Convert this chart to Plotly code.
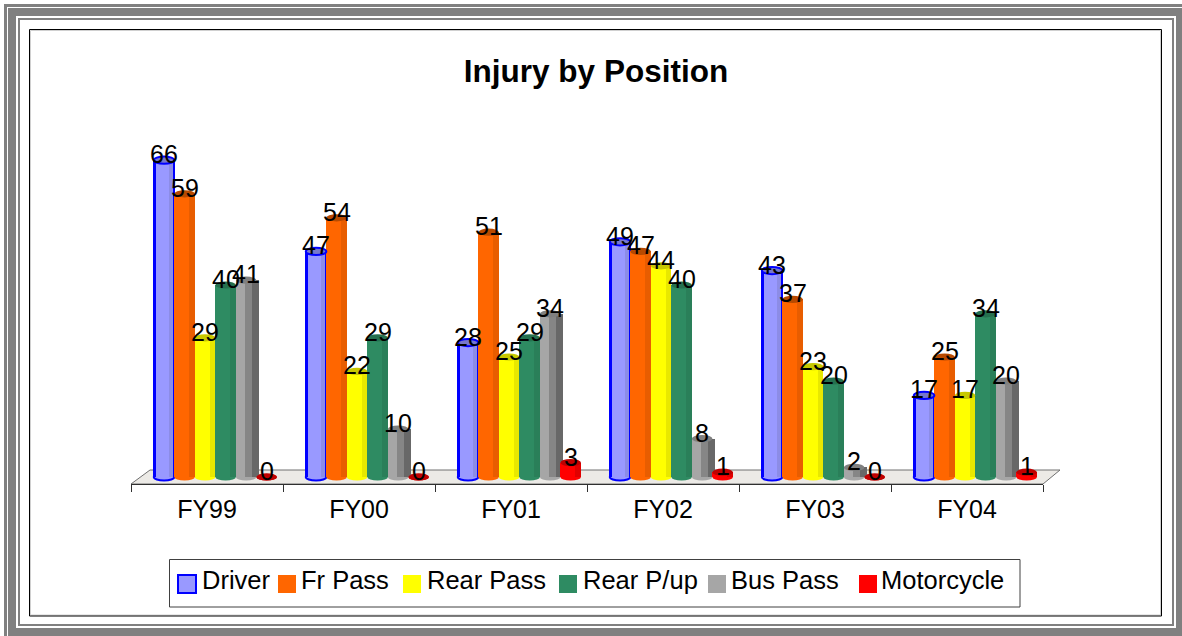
import plotly.graph_objects as go

W, H = 1182, 636
categories = ["FY99", "FY00", "FY01", "FY02", "FY03", "FY04"]
series_names = ["Driver", "Fr Pass", "Rear Pass", "Rear P/up", "Bus Pass", "Motorcycle"]
driver = [66, 47, 28, 49, 43, 17]
fr_pass = [59, 54, 51, 47, 37, 25]
rear_pass = [29, 22, 25, 44, 23, 17]
rear_pup = [40, 29, 29, 40, 20, 34]
bus_pass = [41, 10, 34, 8, 2, 20]
motorcycle = [0, 0, 3, 1, 0, 1]
series_values = [driver, fr_pass, rear_pass, rear_pup, bus_pass, motorcycle]

# styles ---------------------------------------------------------------
colors = ["#9999FF", "#FF6600", "#FFFF00", "#2E8B62", "#A6A6A6", "#FF0000"]
cap_colors = ["#7777CC", "#B84A00", "#C8C800", "#25704F", "#808080", "#C00000"]
outline = ["#0000FF", None, None, None, None, None]
# shading strips of each column: (from, to, colour) in fractions of the bar width
strips = [
    [(0.72, 0.97, "#8C8CE6"), (0.0, 0.09, "#0000FF"), (0.94, 1.03, "#0000FF")],
    [(0.72, 1.0, "#E85D00")],
    [(0.72, 1.0, "#E8E800")],
    [(0.72, 1.0, "#2A7F59")],
    [(0.42, 0.78, "#868686"), (0.78, 1.12, "#686868")],
    [(0.72, 1.0, "#E00000")],
]
GROUP_START = -0.35
BAR_W = 0.135
CAP = 0.75
PX_Y0, PX_Y_UNIT = 477, 4.8
AX_BOTTOM, AX_TOP = 484, 100
AX_LEFT, AX_RIGHT = 131, 1043
xs = list(range(len(categories)))


def px(x):
    return x / W


def py(y):
    return 1 - y / H


fig = go.Figure()
shapes = []
annotations = []


def frame(x0, y0, x1, y1, color, width):
    shapes.append(dict(type="rect", xref="paper", yref="paper", x0=px(x0), y0=py(y0), x1=px(x1), y1=py(y1),
                       line=dict(color=color, width=width), fillcolor="rgba(0,0,0,0)", layer="below"))


frame(5.5, 5.5, 1200, 660, "#808080", 3)
frame(12, 12, 1180, 632, "#808080", 8)
frame(19, 19, 1173, 625, "#808080", 2)
frame(30.5, 30.5, 1160.5, 615, "#D0D0D0", 1)
frame(29.5, 29.5, 1161.5, 616, "#000000", 1)

# floor
shapes.append(dict(type="path", xref="paper", yref="paper", layer="below",
                   path=f"M{px(AX_LEFT)},{py(AX_BOTTOM)} L{px(150)},{py(470)} L{px(1060)},{py(470)} L{px(AX_RIGHT)},{py(AX_BOTTOM)} Z",
                   fillcolor="#ECEAE6", line=dict(color="#707070", width=1)))

for k, (name, vals) in enumerate(zip(series_names, series_values)):
    off = GROUP_START + k * BAR_W
    fig.add_bar(x=categories, y=vals, name=name, offset=off, width=BAR_W,
                marker=dict(color=colors[k], line=dict(width=0)), showlegend=False)
    for a, b, c in strips[k]:
        fig.add_bar(x=categories, y=vals, offset=off + a * BAR_W, width=(b - a) * BAR_W,
                    marker=dict(color=c, line=dict(width=0)), showlegend=False, hoverinfo="skip")
    for i, v in zip(xs, vals):
        line_c = outline[k]
        # base ellipse (behind the column)
        shapes.append(dict(type="circle", xref="x", yref="y", layer="below",
                           x0=i + off, x1=i + off + BAR_W, y0=-CAP, y1=CAP,
                           fillcolor=colors[k] if v > 0 else cap_colors[k],
                           line=dict(color=line_c or colors[k], width=2 if line_c else 0)))
        # top ellipse
        shapes.append(dict(type="circle", xref="x", yref="y", layer="above",
                           x0=i + off, x1=i + off + BAR_W, y0=v - CAP, y1=v + CAP,
                           fillcolor=cap_colors[k],
                           line=dict(color=line_c or cap_colors[k], width=2 if line_c else 0)))
        annotations.append(dict(x=i + off + BAR_W / 2, y=v, xref="x", yref="y", text=str(v), showarrow=False,
                                yshift=6, font=dict(family="Liberation Sans", size=25, color="#000000")))

# legend
legend_swatch_x = [178, 278, 403, 559, 708, 859]
legend_text_x = [200, 299, 425, 581, 729, 879]
shapes.append(dict(type="rect", xref="paper", yref="paper", layer="below", x0=px(169.5), x1=px(1020), y0=py(559.5), y1=py(607),
                   line=dict(color="#404040", width=1), fillcolor="#FFFFFF"))
for k, name in enumerate(series_names):
    shapes.append(dict(type="rect", xref="paper", yref="paper", layer="above",
                       x0=px(legend_swatch_x[k]), x1=px(legend_swatch_x[k] + 18), y0=py(575), y1=py(593),
                       fillcolor=colors[k], line=dict(color=outline[k] or colors[k], width=2 if outline[k] else 0)))
    annotations.append(dict(x=px(legend_text_x[k]), y=py(580), xref="paper", yref="paper", xanchor="left", yanchor="middle",
                            text=name, showarrow=False, font=dict(family="Liberation Sans", size=25.5, color="#000000")))

fig.update_layout(
    width=W, height=H, autosize=False, margin=dict(l=0, r=0, t=0, b=0), barmode="overlay",
    paper_bgcolor="#FFFFFF", plot_bgcolor="rgba(0,0,0,0)", showlegend=False,
    title=dict(text="<b>Injury by Position</b>", x=596 / W, xanchor="center", y=py(71), yanchor="middle",
               font=dict(family="Liberation Sans", size=31.5, color="#000000")),
    xaxis=dict(domain=[px(AX_LEFT), px(AX_RIGHT)], type="category", categoryorder="array", categoryarray=categories,
               range=[-0.5, 5.5], showgrid=False, zeroline=False, showline=True, linecolor="#303030", linewidth=1,
               ticks="outside", tickson="boundaries", ticklen=7, tickcolor="#303030", tickwidth=1,
               ticklabelstandoff=3, tickfont=dict(family="Liberation Sans", size=25, color="#000000")),
    yaxis=dict(domain=[py(AX_BOTTOM), py(AX_TOP)], visible=False, showgrid=False, zeroline=False,
               range=[(PX_Y0 - AX_BOTTOM) / PX_Y_UNIT, (PX_Y0 - AX_TOP) / PX_Y_UNIT]),
    shapes=shapes, annotations=annotations, bargap=0,
)

fig.write_html("out.html", config={"displayModeBar": False},
               post_script="document.body.style.margin='0';document.body.style.overflow='hidden';")
